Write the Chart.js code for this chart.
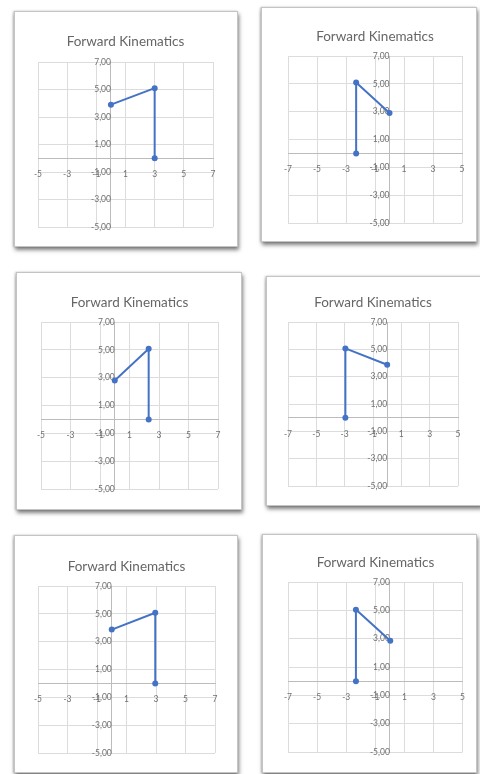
<!DOCTYPE html>
<html>
<head>
<meta charset="utf-8">
<script src="https://cdn.jsdelivr.net/npm/chart.js@4.4.0/dist/chart.umd.min.js"></script>
<style>
html,body{margin:0;padding:0;background:#fff;width:480px;height:774px;overflow:hidden;position:relative;}
.panel{position:absolute;background:#fff;border:1px solid #c4c4c4;box-shadow:1px 3px 4px rgba(0,0,0,0.5), -1px 0 2px rgba(0,0,0,0.2);box-sizing:border-box;overflow:hidden;}
.panel canvas{position:absolute;left:0;top:0;}
</style>
</head>
<body>
<script>
// ---- data ----
const chartTitle = 'Forward Kinematics';
const xRangeLeft = [-5, 7];
const xRangeRight = [-7, 5];
const yRange = [-5, 7];
const tickStep = 2;

const chart1X = [3, 3, 0];
const chart1Y = [0, 5.1, 3.9];
const chart2X = [-2.3, -2.3, 0];
const chart2Y = [0, 5.1, 2.9];
const chart3X = [2.3, 2.3, 0];
const chart3Y = [0, 5.07, 2.8];
const chart4X = [-2.95, -2.95, 0];
const chart4Y = [0, 5.07, 3.87];
const chart5X = [2.95, 2.95, 0];
const chart5Y = [0, 5.08, 3.87];
const chart6X = [-2.33, -2.33, 0.03];
const chart6Y = [0, 5.05, 2.86];

// ---- layout (panel box, plot box, title centre) ----
const panels = [
  {box:[14,11,238,247],  plot:[38,62,213,227],  titleY:42,  xs:chart1X, ys:chart1Y, xr:xRangeLeft},
  {box:[261,7,477,242],  plot:[288,56,462,223], titleY:37,  xs:chart2X, ys:chart2Y, xr:xRangeRight},
  {box:[16,272,242,510], plot:[41,322,218,489], titleY:303, xs:chart3X, ys:chart3Y, xr:xRangeLeft},
  {box:[266,276,482,506],plot:[288,322,458,486],titleY:303, xs:chart4X, ys:chart4Y, xr:xRangeRight},
  {box:[14,535,238,773], plot:[38,586,215,753], titleY:567, xs:chart5X, ys:chart5Y, xr:xRangeLeft},
  {box:[262,534,477,773],plot:[288,582,463,752],titleY:563, xs:chart6X, ys:chart6Y, xr:xRangeRight}
];

const blue = '#4472C4';
const gridColor = '#dcdcdc';
const axisColor = '#bcbcbc';
const labelColor = '#707070';
const titleSize = 13.5;
const tickFont = {family:'Lato', size:8.5};

panels.forEach(p => {
  const [bl, bt, br, bb] = p.box;
  const [pl, pt, pr, pb] = p.plot;
  const div = document.createElement('div');
  div.className = 'panel';
  div.style.left = bl + 'px';
  div.style.top = bt + 'px';
  div.style.width = (br - bl) + 'px';
  div.style.height = (bb - bt) + 'px';
  document.body.appendChild(div);
  const cw = br - bl - 2, ch = bb - bt - 2;
  const ox = bl + 1, oy = bt + 1;
  const cv = document.createElement('canvas');
  cv.width = cw; cv.height = ch;
  cv.style.width = cw + 'px'; cv.style.height = ch + 'px';
  div.appendChild(cv);

  const lh = titleSize * 1.2;
  const tp = (p.titleY - oy) - lh / 2;
  const bp = (pt - oy) - tp - lh;

  const pts = p.xs.map((x, i) => ({x: x, y: p.ys[i]}));

  new Chart(cv, {
    type: 'scatter',
    data: {
      datasets: [{
        data: pts,
        showLine: true,
        borderColor: blue,
        backgroundColor: blue,
        borderWidth: 2,
        pointRadius: 3,
        pointBorderWidth: 0,
        tension: 0
      }]
    },
    options: {
      responsive: false,
      animation: false,
      devicePixelRatio: 1,
      layout: {padding: {left: pl - ox, right: (ox + cw) - pr, top: 0, bottom: (oy + ch) - pb}},
      plugins: {
        legend: {display: false},
        tooltip: {enabled: false},
        title: {
          display: true,
          text: chartTitle,
          color: '#666666',
          font: {family: 'Lato', size: titleSize, weight: 'normal', lineHeight: 1.2},
          padding: {top: tp, bottom: bp}
        }
      },
      scales: {
        x: {
          type: 'linear',
          min: p.xr[0], max: p.xr[1],
          position: {y: 0},
          ticks: {stepSize: tickStep, color: labelColor, font: tickFont, padding: 11,
                  maxRotation: 0, autoSkip: false, callback: v => String(v)},
          grid: {color: gridColor, drawTicks: false, lineWidth: 1},
          border: {display: true, color: axisColor, width: 1}
        },
        y: {
          type: 'linear',
          min: yRange[0], max: yRange[1],
          position: {x: 0},
          ticks: {stepSize: tickStep, color: labelColor, font: tickFont, padding: 10,
                  autoSkip: false, callback: v => v.toFixed(2).replace('.', ',')},
          grid: {color: gridColor, drawTicks: false, lineWidth: 1},
          border: {display: true, color: axisColor, width: 1}
        }
      }
    }
  });
});
</script>
</body>
</html>
